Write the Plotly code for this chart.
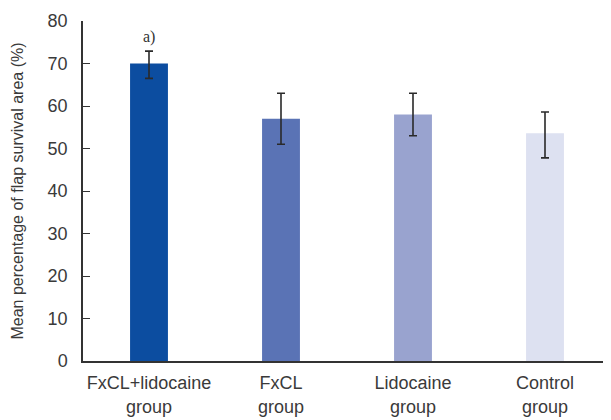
import plotly.graph_objects as go

categories = ["FxCL+lidocaine<br>group", "FxCL<br>group", "Lidocaine<br>group", "Control<br>group"]
means = [70, 57, 58, 53.6]
err_plus = [2.9, 6.0, 5.0, 5.0]
err_minus = [3.5, 6.0, 5.0, 5.8]
colors = ["#0c4da0", "#5a73b5", "#99a3cf", "#dde1f1"]
y_ticks = [0, 10, 20, 30, 40, 50, 60, 70, 80]
sig_label = "a)"

FONT = "Liberation Sans Narrow, Arial Narrow, Liberation Sans, sans-serif"

fig = go.Figure()
fig.add_trace(go.Bar(
    x=categories, y=means,
    marker=dict(color=colors, line=dict(width=0)),
    width=0.287,
    error_y=dict(type="data", symmetric=False, array=err_plus, arrayminus=err_minus,
                 color="#2a2a2a", thickness=1.6, width=4),
))

fig.add_annotation(x=categories[0], y=means[0] + err_plus[0], text=sig_label,
                   showarrow=False, yanchor="bottom", yshift=3,
                   font=dict(family="Liberation Serif, serif", size=16, color="#333333"))

fig.update_layout(
    width=603, height=412,
    margin=dict(l=75, r=0, t=13, b=59, autoexpand=False),
    paper_bgcolor="white", plot_bgcolor="white",
    showlegend=False,
    font=dict(family=FONT, size=18, color="#3a3a3a"),
    xaxis=dict(range=[-0.5, 3.5], showline=True, linecolor="#333333", linewidth=1.5,
               ticks="", showgrid=False, automargin=False, ticklabelstandoff=5,
               tickfont=dict(size=18, color="#3a3a3a")),
    yaxis=dict(range=[0, 80], tickvals=y_ticks, showline=True, linecolor="#333333",
               linewidth=1.5, ticks="inside", ticklen=7, tickcolor="#333333",
               showgrid=False, zeroline=False, ticklabelstandoff=10, automargin=False,
               tickfont=dict(size=18, color="#3a3a3a"),
               title=dict(text="Mean percentage of flap survival area (%)",
                          font=dict(size=16, color="#3a3a3a"), standoff=20)),
)

fig.write_html("out.html")
